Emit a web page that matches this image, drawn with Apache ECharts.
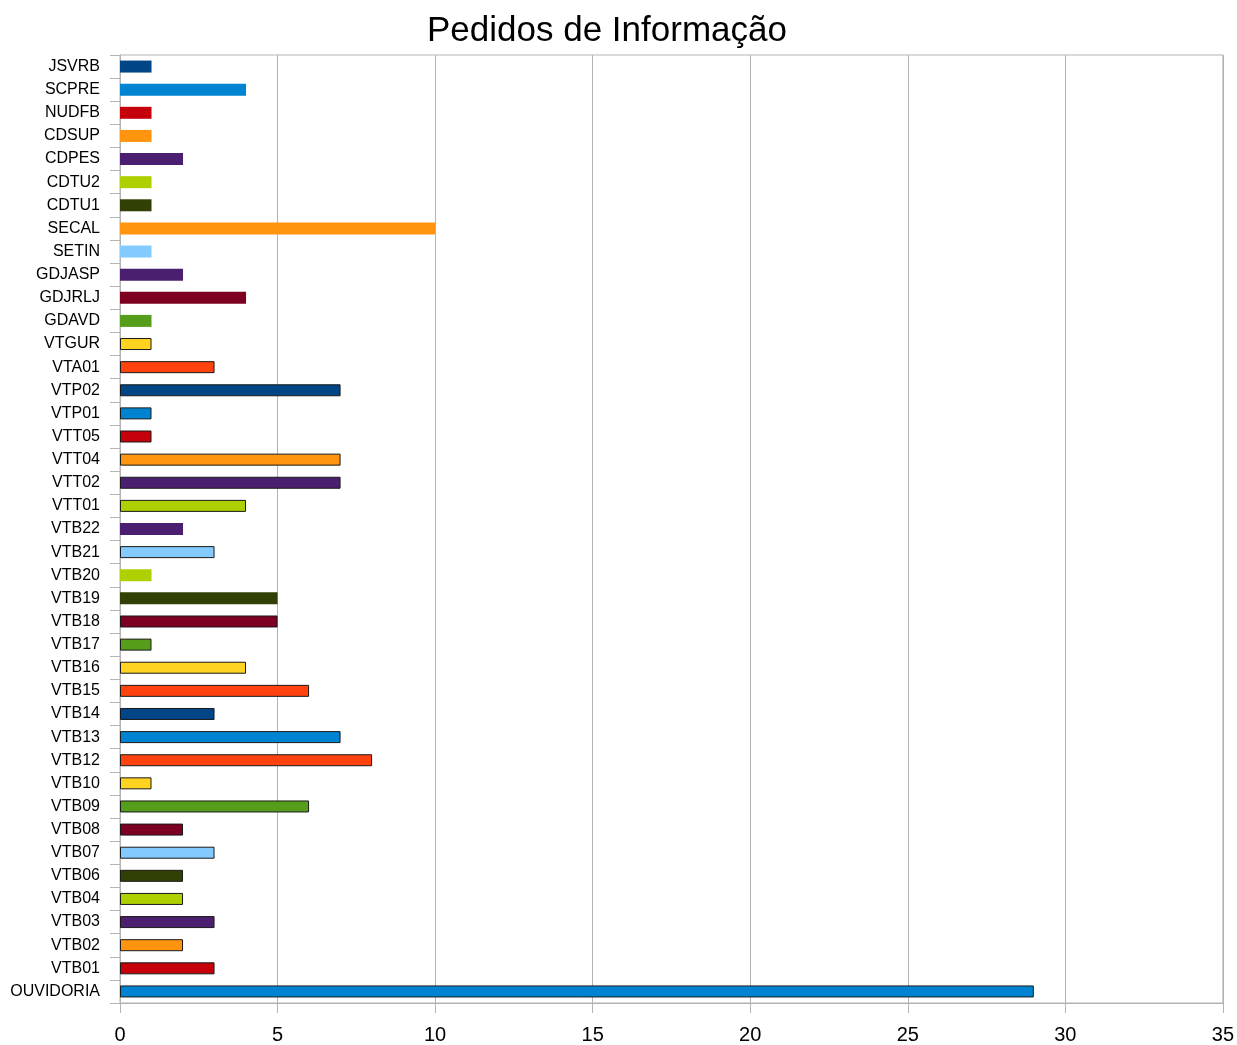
<!DOCTYPE html>
<html>
<head>
<meta charset="utf-8">
<script src="https://cdn.jsdelivr.net/npm/echarts@6/dist/echarts.min.js"></script>
<style>html,body{margin:0;padding:0;background:#fff}#c{width:1237px;height:1045px}</style>
</head>
<body>
<div id="c"></div>
<script>
// Categories listed bottom to top
const categories = ['OUVIDORIA','VTB01','VTB02','VTB03','VTB04','VTB06','VTB07','VTB08','VTB09','VTB10','VTB12','VTB13','VTB14','VTB15','VTB16','VTB17','VTB18','VTB19','VTB20','VTB21','VTB22','VTT01','VTT02','VTT04','VTT05','VTP01','VTP02','VTA01','VTGUR','GDAVD','GDJRLJ','GDJASP','SETIN','SECAL','CDTU1','CDTU2','CDPES','CDSUP','NUDFB','SCPRE','JSVRB'];
const values = [29,3,2,3,2,2,3,2,6,1,8,7,3,6,4,1,5,5,1,3,2,4,7,7,1,1,7,3,1,1,4,2,1,10,1,1,2,1,1,4,1];
const xTicks = [0,5,10,15,20,25,30,35];
// style tables (same order as categories)
const barColors = ['#0084d1','#c5000b','#ff950e','#4b1f6f','#aecf00','#314004','#83caff','#7e0021','#579d1c','#ffd320','#ff420e','#0084d1','#004586','#ff420e','#ffd320','#579d1c','#7e0021','#314004','#aecf00','#83caff','#4b1f6f','#aecf00','#4b1f6f','#ff950e','#c5000b','#0084d1','#004586','#ff420e','#ffd320','#579d1c','#7e0021','#4b1f6f','#83caff','#ff950e','#314004','#aecf00','#4b1f6f','#ff950e','#c5000b','#0084d1','#004586'];
const bordered = [1,1,1,1,1,1,1,1,1,1,1,1,1,1,1,1,1,0,0,1,0,1,1,1,1,1,1,1,1,0,0,0,0,0,0,0,0,0,0,0,0];

const chart = echarts.init(document.getElementById('c'));
const font = 'Liberation Sans, Arial, sans-serif';
chart.setOption({
  animation: false,
  backgroundColor: '#fff',
  title: {
    text: 'Pedidos de Informação',
    left: 422, top: 9,
    textStyle: {fontFamily: font, fontSize: 35, fontWeight: 'normal', color: '#000'}
  },
  grid: {left: 120, right: 14, top: 55, bottom: 42, show: true, borderColor: '#b3b3b3', borderWidth: 1},
  xAxis: {
    type: 'value', min: xTicks[0], max: xTicks[xTicks.length-1], interval: 5,
    axisLine: {show: true, lineStyle: {color: '#b3b3b3'}},
    axisTick: {show: true, length: 10, lineStyle: {color: '#b3b3b3'}},
    splitLine: {show: true, lineStyle: {color: '#b3b3b3'}},
    axisLabel: {fontFamily: font, fontSize: 20, color: '#000', margin: 22}
  },
  yAxis: {
    type: 'category', data: categories,
    axisLine: {show: true, lineStyle: {color: '#b3b3b3'}},
    axisTick: {show: true, length: 10, lineStyle: {color: '#b3b3b3'}},
    splitLine: {show: false},
    axisLabel: {fontFamily: font, fontSize: 16, color: '#000', margin: 20, interval: 0, padding: [2, 0, 0, 0]}
  },
  series: [{
    type: 'bar',
    barWidth: 12,
    data: values.map((v, i) => ({
      value: v,
      itemStyle: {
        color: barColors[i],
        borderColor: bordered[i] ? '#1a1a1a' : barColors[i],
        borderWidth: bordered[i] ? 1 : 0
      }
    }))
  }]
});
</script>
</body>
</html>
